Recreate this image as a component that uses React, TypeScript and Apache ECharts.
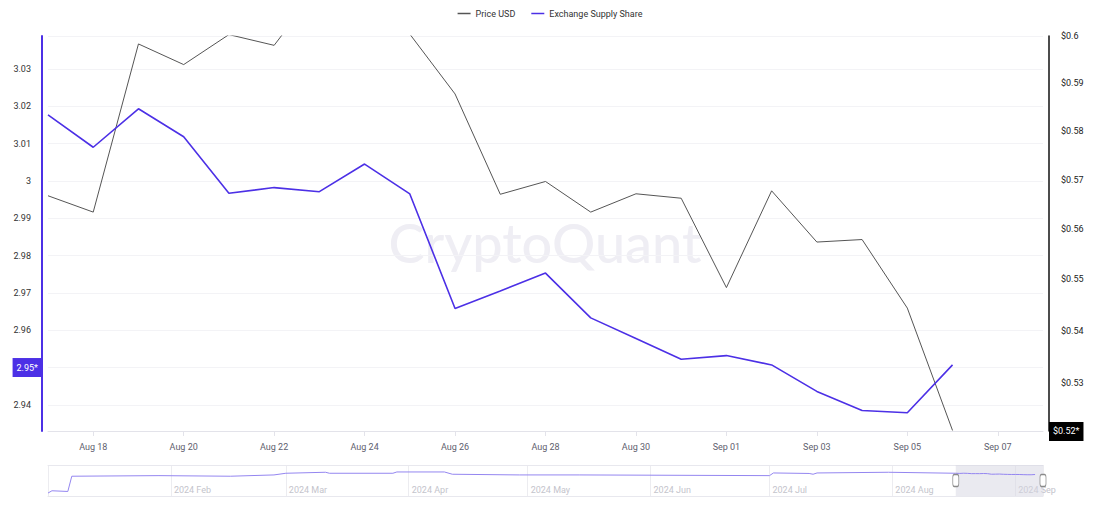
import React, { useEffect, useRef } from "react";
import * as echarts from "echarts";

// Main window: daily dates (Aug 17 – Sep 08, 2024)
const dates = [
  "Aug 17", "Aug 18", "Aug 19", "Aug 20", "Aug 21", "Aug 22", "Aug 23", "Aug 24",
  "Aug 25", "Aug 26", "Aug 27", "Aug 28", "Aug 29", "Aug 30", "Aug 31", "Sep 01",
  "Sep 02", "Sep 03", "Sep 04", "Sep 05", "Sep 06", "Sep 07", "Sep 08",
];

// Exchange Supply Share (left axis)
const supplyShare = [
  3.0177, 3.009, 3.0193, 3.0118, 2.9967, 2.9982, 2.9971, 3.0045, 2.9965, 2.9658,
  2.9705, 2.9753, 2.9633, 2.9578, 2.9522, 2.9532, 2.9507, 2.9436, 2.9385, 2.9379,
  2.9507,
];

// Price USD (right axis, log scale)
const priceUsd = [
  0.5667, 0.5634, 0.5983, 0.5939, 0.6003, 0.598, 0.6108, 0.615, 0.6004, 0.5877,
  0.567, 0.5696, 0.5634, 0.5671, 0.5662, 0.5484, 0.5677, 0.5574, 0.5579, 0.5444,
  0.5211,
];

// Right axis tick labels (USD)
const priceTicks = [0.53, 0.54, 0.55, 0.56, 0.57, 0.58, 0.59, 0.6];

// Overview (slider preview) of Exchange Supply Share, Jan – mid Aug 2024
const overviewDates = [
  "2024-01-01", "2024-01-02", "2024-01-06", "2024-01-07", "2024-01-29", "2024-02-16",
  "2024-02-27", "2024-03-01", "2024-03-11", "2024-03-12", "2024-03-28", "2024-03-29",
  "2024-04-10", "2024-04-12", "2024-04-29", "2024-05-14", "2024-07-01", "2024-07-02",
  "2024-07-11", "2024-07-12", "2024-07-13", "2024-07-31",
];
const overviewValues = [
  1.958, 2.08, 2.043, 2.859, 2.891, 2.859, 2.928, 3.018, 3.071, 3.018, 3.018, 3.087,
  3.087, 2.965, 2.928, 2.928, 2.891, 3.034, 3.007, 2.965, 3.034, 3.071,
];

const monthNames = ["Jan", "Feb", "Mar", "Apr", "May", "Jun", "Jul", "Aug", "Sep", "Oct", "Nov", "Dec"];

const BLUE = "#4c30e6";
const GRAY = "#555555";
const FONT = "Roboto, sans-serif";

function parseDay(s: string): number {
  const [y, m, d] = s.split("-").map(Number);
  return new Date(y, m - 1, d).getTime();
}

export default function App() {
  const ref = useRef<HTMLDivElement>(null);

  useEffect(() => {
    if (!ref.current) return;
    const chart = echarts.init(ref.current, undefined, { renderer: "svg" });

    const windowStart = new Date(2024, 7, 17).getTime();
    const windowEnd = new Date(2024, 8, 8).getTime();
    const mainTimes = supplyShare.map((_, i) => new Date(2024, 7, 17 + i).getTime());
    const overviewData = overviewDates
      .map((d, i) => [parseDay(d), overviewValues[i]])
      .concat(supplyShare.map((v, i) => [mainTimes[i], v]));

    const ovMin = 1.8;
    const ovMax = 3.46;
    const lastShare = supplyShare[supplyShare.length - 1];
    const lastPrice = priceUsd[priceUsd.length - 1];
    const oddOnly = (i: number) => i % 2 === 1;
    // the last-value badge covers the tick label at the same level
    const coveredTick = Number(lastShare.toFixed(2));

    chart.setOption({
      animation: false,
      textStyle: { fontFamily: FONT },
      legend: {
        top: 4,
        left: "center",
        icon: "rect",
        itemWidth: 13,
        itemHeight: 1.5,
        itemGap: 16,
        textStyle: { fontSize: 9, color: "#333", fontFamily: FONT },
        data: ["Price USD", "Exchange Supply Share"],
      },
      graphic: [
        {
          type: "text",
          x: 545,
          y: 242,
          z: 0,
          silent: true,
          style: {
            text: "CryptoQuant",
            fontSize: 54,
            fontFamily: "Lato, sans-serif",
            fontWeight: 500,
            fill: "#efeef4",
            textAlign: "center",
            textVerticalAlign: "middle",
          },
        },
      ],
      grid: [
        { left: 48, right: 57, top: 36, bottom: 75 },
        { left: 48, right: 57, top: 465, height: 31 },
      ],
      xAxis: [
        {
          type: "category",
          gridIndex: 0,
          data: dates,
          boundaryGap: false,
          axisLine: { lineStyle: { color: "#e3e3ea" } },
          axisTick: { show: true, interval: oddOnly, length: 5, lineStyle: { color: "#e3e3ea" } },
          axisLabel: { interval: oddOnly, color: "#60606e", fontSize: 9, margin: 11, fontFamily: FONT },
          splitLine: { show: false },
        },
        {
          type: "time",
          gridIndex: 1,
          min: new Date(2024, 0, 1).getTime(),
          max: windowEnd,
          splitNumber: 8,
          position: "bottom",
          axisLine: { show: true, lineStyle: { color: "#e8e8ee" } },
          axisTick: { show: false },
          splitLine: { show: true, lineStyle: { color: "#ececf0" } },
          axisLabel: {
            inside: true,
            margin: 2,
            fontSize: 9,
            color: "#c4c4cc",
            align: "left",
            padding: [0, 0, 0, 3],
            fontFamily: FONT,
            formatter: (v: number) => {
              const d = new Date(v);
              if (d.getDate() !== 1 || d.getMonth() === 0) return "";
              return `${d.getFullYear()} ${monthNames[d.getMonth()]}`;
            },
          },
        },
        {
          type: "time",
          gridIndex: 1,
          position: "top",
          min: new Date(2024, 0, 1).getTime(),
          max: windowEnd,
          axisLine: { show: true, lineStyle: { color: "#e8e8ee" } },
          axisTick: { show: false },
          axisLabel: { show: false },
          splitLine: { show: false },
        },
      ],
      yAxis: [
        {
          type: "value",
          gridIndex: 0,
          position: "left",
          offset: 6,
          min: 2.933,
          max: 3.0388,
          splitNumber: 10,
          axisLine: { show: true, lineStyle: { color: BLUE, width: 2 } },
          axisTick: { show: false },
          axisLabel: {
            color: "#333",
            fontSize: 9,
            margin: 11,
            showMinLabel: false,
            showMaxLabel: false,
            fontFamily: FONT,
            formatter: (v: number) =>
              Math.abs(v - coveredTick) < 1e-6 ? "" : String(Number(v.toFixed(4))),
          },
          splitLine: { show: true, lineStyle: { color: "#f3f3f6" } },
        },
        {
          type: "value",
          gridIndex: 0,
          position: "right",
          offset: 6,
          min: Math.log(0.521),
          max: Math.log(0.6),
          axisLine: { show: true, lineStyle: { color: "#111", width: 1.5 } },
          axisTick: { show: false },
          splitLine: { show: false },
          axisLabel: {
            customValues: priceTicks.map((t) => Math.log(t)),
            color: "#222",
            fontSize: 9,
            margin: 12,
            fontFamily: FONT,
            formatter: (v: number) => "$" + String(Number(Math.exp(v).toFixed(2))),
          },
        },
        {
          type: "value",
          gridIndex: 1,
          min: ovMin,
          max: ovMax,
          show: false,
          splitLine: { show: false },
        },
      ],
      series: [
        {
          name: "Price USD",
          type: "line",
          xAxisIndex: 0,
          yAxisIndex: 1,
          data: priceUsd.map((p) => Math.log(p)),
          showSymbol: false,
          symbol: "none",
          color: GRAY,
          lineStyle: { color: GRAY, width: 1 },
          z: 3,
          markLine: {
            silent: true,
            symbol: "none",
            lineStyle: { color: "rgba(0,0,0,0)", width: 0 },
            data: [{ yAxis: Math.log(lastPrice) }],
            label: {
              show: true,
              position: "end",
              distance: 6,
              offset: [0, 6],
              formatter: (p: any) => "$" + Math.exp(p.value).toFixed(2) + "*",
              backgroundColor: "#000",
              color: "#fff",
              fontSize: 9,
              padding: [5, 4],
              fontFamily: FONT,
            },
          },
        },
        {
          name: "Exchange Supply Share",
          type: "line",
          xAxisIndex: 0,
          yAxisIndex: 0,
          data: supplyShare,
          showSymbol: false,
          symbol: "none",
          color: BLUE,
          lineStyle: { color: BLUE, width: 1.6 },
          z: 4,
          markLine: {
            silent: true,
            symbol: "none",
            lineStyle: { color: "rgba(0,0,0,0)", width: 0 },
            data: [{ yAxis: lastShare }],
            label: {
              show: true,
              position: "start",
              distance: 6,
              formatter: (p: any) => Number(p.value).toFixed(2) + "*",
              backgroundColor: BLUE,
              color: "#fff",
              fontSize: 9,
              padding: [5, 4],
              fontFamily: FONT,
            },
          },
        },
        {
          name: "Overview",
          type: "line",
          xAxisIndex: 1,
          yAxisIndex: 2,
          data: overviewData,
          showSymbol: false,
          symbol: "none",
          silent: true,
          lineStyle: { color: "#9486f0", width: 1 },
          markArea: {
            silent: true,
            itemStyle: { color: "rgba(214,214,226,0.5)" },
            data: [[{ xAxis: windowStart }, { xAxis: windowEnd }]],
          },
          markPoint: {
            silent: true,
            symbol: "roundRect",
            symbolSize: [6, 12],
            itemStyle: { color: "#fff", borderColor: "#8a8a8a", borderWidth: 1 },
            label: { show: false },
            data: [
              { coord: [windowStart, (ovMin + ovMax) / 2] },
              { coord: [windowEnd, (ovMin + ovMax) / 2] },
            ],
          },
        },
      ],
    });

    return () => chart.dispose();
  }, []);

  return (
    <div
      ref={ref}
      style={{ position: "fixed", left: 0, top: 0, width: 1100, height: 506, background: "#fff" }}
    />
  );
}
